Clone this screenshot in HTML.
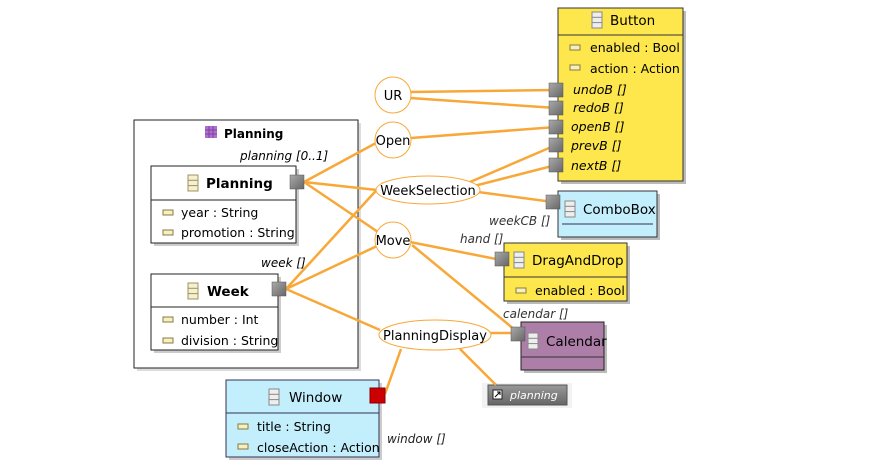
<!DOCTYPE html>
<html><head><style>
body{margin:0;background:#fff;}
svg text{font-family:"DejaVu Sans","Liberation Sans",sans-serif;}
</style></head><body>
<svg width="880" height="471" viewBox="0 0 880 471" xmlns="http://www.w3.org/2000/svg">
<defs>
<linearGradient id="pg" x1="0" y1="0" x2="1" y2="1"><stop offset="0" stop-color="#aaa"/><stop offset="1" stop-color="#666"/></linearGradient>
<linearGradient id="sg" x1="0" y1="0" x2="0" y2="1"><stop offset="0" stop-color="#999"/><stop offset="1" stop-color="#666"/></linearGradient>
<g id="ci"><rect x="0" y="0" width="10" height="16" fill="#f4f0d0" stroke="#a09060"/><line x1="0" y1="5.3" x2="10" y2="5.3" stroke="#a09060"/><line x1="0" y1="10.6" x2="10" y2="10.6" stroke="#a09060"/></g>
<g id="ci2"><rect x="0" y="0" width="10" height="16" fill="#eee" stroke="#888"/><line x1="0" y1="5.3" x2="10" y2="5.3" stroke="#888"/><line x1="0" y1="10.6" x2="10" y2="10.6" stroke="#888"/></g>
<g id="ai"><rect x="0" y="0" width="10" height="5" fill="#f4f0c0" stroke="#8a7a40"/></g>
</defs>

<rect x="137" y="123" width="224" height="248" fill="#ddd"/>
<rect x="134" y="120" width="224" height="248" fill="#fff" stroke="#222"/>
<g transform="translate(205,126)"><rect width="12" height="12" fill="#b070d0"/><path d="M4 0V12M8 0V12M0 4H12M0 8H12" stroke="#8040a0"/></g>
<text x="224" y="138" font-size="12" font-weight="bold">Planning</text>

<rect x="154" y="169" width="145" height="77" fill="#ccc"/>
<rect x="151" y="166" width="145" height="77" fill="#fff" stroke="#222"/>
<line x1="151" y1="200" x2="296" y2="200" stroke="#222"/>
<use href="#ci" x="188" y="175"/>
<text x="206" y="188" font-size="13.5" font-weight="bold">Planning</text>
<use href="#ai" x="163" y="210"/><text x="181" y="217" font-size="12.5">year : String</text>
<use href="#ai" x="163" y="230"/><text x="181" y="237" font-size="12.5">promotion : String</text>
<text x="240" y="160" font-size="12" font-style="italic">planning [0..1]</text>

<rect x="154" y="277" width="127" height="76" fill="#ccc"/>
<rect x="151" y="274" width="127" height="76" fill="#fff" stroke="#222"/>
<line x1="151" y1="307" x2="278" y2="307" stroke="#222"/>
<use href="#ci" x="188" y="283"/>
<text x="207" y="296" font-size="13.5" font-weight="bold">Week</text>
<use href="#ai" x="163" y="317"/><text x="181" y="324" font-size="12.5">number : Int</text>
<use href="#ai" x="163" y="338"/><text x="181" y="345" font-size="12.5">division : String</text>
<text x="261" y="267" font-size="12" font-style="italic">week []</text>

<rect x="561" y="11" width="125" height="173" fill="#bbb"/>
<rect x="558" y="8" width="125" height="173" fill="#fde74c" stroke="#333"/>
<line x1="558" y1="35" x2="683" y2="35" stroke="#333"/>
<use href="#ci2" x="592" y="12"/>
<text x="610" y="25" font-size="13.5">Button</text>
<use href="#ai" x="570" y="45"/><text x="590" y="52" font-size="12.5">enabled : Bool</text>
<use href="#ai" x="570" y="65"/><text x="590" y="73" font-size="12.5">action : Action</text>
<text x="573" y="94" font-size="12.5" font-style="italic">undoB []</text>
<text x="573" y="112" font-size="12.5" font-style="italic">redoB []</text>
<text x="571" y="131" font-size="12.5" font-style="italic">openB []</text>
<text x="571" y="150" font-size="12.5" font-style="italic">prevB []</text>
<text x="571" y="170" font-size="12.5" font-style="italic">nextB []</text>

<rect x="561" y="194" width="99" height="46" fill="#bbb"/>
<rect x="558" y="191" width="99" height="46" fill="#c3eefc" stroke="#333"/>
<line x1="562" y1="224" x2="653" y2="224" stroke="#335"/>
<use href="#ci2" x="565" y="201"/>
<text x="583" y="214" font-size="13.5">ComboBox</text>
<text x="489" y="225" font-size="12" font-style="italic" fill="#333">weekCB []</text>

<rect x="507" y="246" width="123" height="58" fill="#bbb"/>
<rect x="504" y="243" width="123" height="58" fill="#fde74c" stroke="#333"/>
<line x1="504" y1="277" x2="627" y2="277" stroke="#333"/>
<use href="#ci2" x="514" y="252"/>
<text x="532" y="265" font-size="13.5">DragAndDrop</text>
<use href="#ai" x="516" y="288"/><text x="535" y="295" font-size="12.5">enabled : Bool</text>
<text x="460" y="243" font-size="12" font-style="italic" fill="#333">hand []</text>

<rect x="524" y="325" width="83" height="48" fill="#bbb"/>
<rect x="521" y="322" width="83" height="48" fill="#ad7fa8" stroke="#222"/>
<line x1="521" y1="357" x2="604" y2="357" stroke="#333"/>
<use href="#ci2" x="528" y="333"/>
<text x="546" y="346" font-size="13.5">Calendar</text>
<text x="503" y="318" font-size="12" font-style="italic" fill="#333">calendar []</text>

<rect x="229" y="383" width="153" height="77" fill="#ccc"/>
<rect x="226" y="380" width="153" height="77" fill="#c3eefc" stroke="#335"/>
<line x1="226" y1="413" x2="379" y2="413" stroke="#335"/>
<use href="#ci2" x="269" y="389"/>
<text x="289" y="402" font-size="13.5">Window</text>
<use href="#ai" x="238" y="424"/><text x="257" y="431" font-size="12.5">title : String</text>
<use href="#ai" x="238" y="444"/><text x="257" y="452" font-size="12.5">closeAction : Action</text>
<text x="387" y="443" font-size="12" font-style="italic" fill="#222">window []</text>

<rect x="482" y="383" width="90" height="25" fill="#f2f2f2"/>
<rect x="488" y="385" width="79" height="20" fill="url(#sg)" stroke="#555"/>
<rect x="493" y="390" width="9" height="9" fill="#fff" stroke="#222"/><path d="M495 397L500 392M497 392H500V395" stroke="#000" fill="none"/>
<text x="510" y="399" font-size="11" font-style="italic" fill="#fff">planning</text>

<g stroke="#f8a838" stroke-width="2.5" fill="none">
<line x1="410" y1="92" x2="556" y2="90"/>
<line x1="410" y1="98" x2="556" y2="108"/>
<line x1="411" y1="138" x2="556" y2="127"/>
<line x1="470" y1="182" x2="556" y2="145"/>
<line x1="474" y1="186" x2="556" y2="165"/>
<line x1="478" y1="192" x2="553" y2="202"/>
<line x1="304" y1="182" x2="376" y2="143"/>
<line x1="304" y1="182" x2="377" y2="190"/>
<line x1="304" y1="182" x2="378" y2="232"/>
<line x1="286" y1="289" x2="383" y2="183"/>
<line x1="286" y1="289" x2="377" y2="246"/>
<line x1="286" y1="289" x2="380" y2="330"/>
<line x1="410" y1="242" x2="496" y2="259"/>
<line x1="412" y1="245" x2="515" y2="330"/>
<line x1="490" y1="333" x2="511" y2="333"/>
<line x1="401" y1="349" x2="385" y2="394"/>
<line x1="460" y1="349" x2="496" y2="385"/>
</g>

<g fill="#fff" stroke="#f8a838" stroke-width="1">
<circle cx="393" cy="95" r="18"/>
<circle cx="393" cy="140" r="18"/>
<ellipse cx="428" cy="190" rx="52" ry="14"/>
<circle cx="393" cy="240" r="18"/>
<ellipse cx="435" cy="335" rx="56" ry="15"/>
</g>
<g font-size="13" text-anchor="middle">
<text x="393" y="100">UR</text>
<text x="393" y="145">Open</text>
<text x="428" y="195">WeekSelection</text>
<text x="393" y="245">Move</text>
<text x="435" y="340">PlanningDisplay</text>
</g>

<g fill="url(#pg)" stroke="#555" stroke-width="0.5">
<rect x="290" y="175" width="14" height="14"/>
<rect x="272" y="282" width="14" height="14"/>
<rect x="549" y="83" width="14" height="14"/>
<rect x="549" y="101" width="14" height="14"/>
<rect x="549" y="120" width="14" height="14"/>
<rect x="549" y="138" width="14" height="14"/>
<rect x="549" y="158" width="14" height="14"/>
<rect x="546" y="195" width="14" height="14"/>
<rect x="495" y="252" width="14" height="14"/>
<rect x="511" y="327" width="14" height="14"/>
</g>
<rect x="370" y="388" width="15" height="15" fill="#cc0000" stroke="#800"/>
</svg>
</body></html>
